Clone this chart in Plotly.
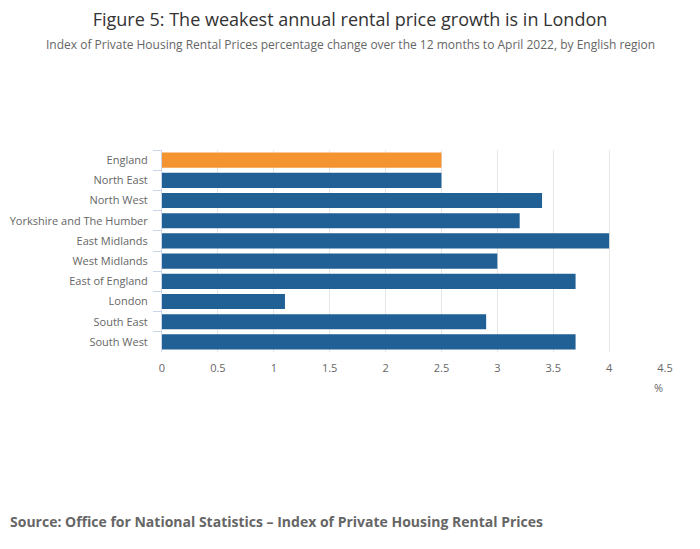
import plotly.graph_objects as go

regions = ["England", "North East", "North West", "Yorkshire and The Humber",
           "East Midlands", "West Midlands", "East of England", "London",
           "South East", "South West"]
values = [2.5, 2.5, 3.4, 3.2, 4.0, 3.0, 3.7, 1.1, 2.9, 3.7]
colors = ["#F39431"] + ["#206095"] * 9
x_ticks = [0, 0.5, 1, 1.5, 2, 2.5, 3, 3.5, 4, 4.5]

W, H = 700, 549
L, T = 154, 142
pw, ph = 503, 202
R = W - L - pw
B = H - T - ph

def py(pix):
    return (H - B - pix) / ph

def px(pix):
    return (pix - L) / pw

fig = go.Figure(go.Bar(
    x=values, y=regions, orientation="h",
    marker=dict(color=colors, line=dict(width=0)),
    hoverinfo="x+y",
))

font = "Open Sans, Arial, sans-serif"
fig.update_layout(
    width=W, height=H,
    margin=dict(l=L, r=R, t=T, b=B, autoexpand=False),
    paper_bgcolor="white", plot_bgcolor="white",
    font=dict(family=font, color="#666666", size=11),
    showlegend=False,
    bargap=0.25,
    title=dict(text="Figure 5: The weakest annual rental price growth is in London",
               x=342 / W, xanchor="center", xref="container", y=1 - 12 / H, yanchor="middle",
               yref="container",
               font=dict(family=font, size=18, color="#333333")),
    xaxis=dict(range=[0, 4.5], tickvals=x_ticks, ticktext=[f"{v:g}" for v in x_ticks],
               showgrid=True, gridcolor="#e6e6e6", gridwidth=1, automargin=False,
               zeroline=False, showline=False, ticks="", ticklabelstandoff=8,
               tickfont=dict(size=11, color="#666666")),
    yaxis=dict(autorange="reversed", showline=True, linecolor="#ccd6eb", linewidth=1,
               ticks="outside", tickson="boundaries", ticklen=8, tickcolor="#ccd6eb",
               ticklabelstandoff=11, automargin=False,
               showgrid=False, tickfont=dict(size=11, color="#666666")),
    annotations=[
        dict(text="Index of Private Housing Rental Prices percentage change over the 12 months to April 2022, by English region",
             xref="paper", yref="paper", x=px(342), y=py(36),
             xanchor="center", yanchor="middle", showarrow=False,
             font=dict(family=font, size=12, color="#666666")),
        dict(text="%", xref="paper", yref="paper", x=px(657), y=py(379),
             xanchor="right", yanchor="middle", showarrow=False,
             font=dict(family=font, size=11, color="#666666")),
        dict(text="<b>Source: Office for National Statistics – Index of Private Housing Rental Prices</b>",
             xref="paper", yref="paper", x=px(0), y=py(513),
             xanchor="left", yanchor="middle", showarrow=False,
             font=dict(family=font, size=14, color="#666666")),
    ],
)

fig.write_html("out.html")
